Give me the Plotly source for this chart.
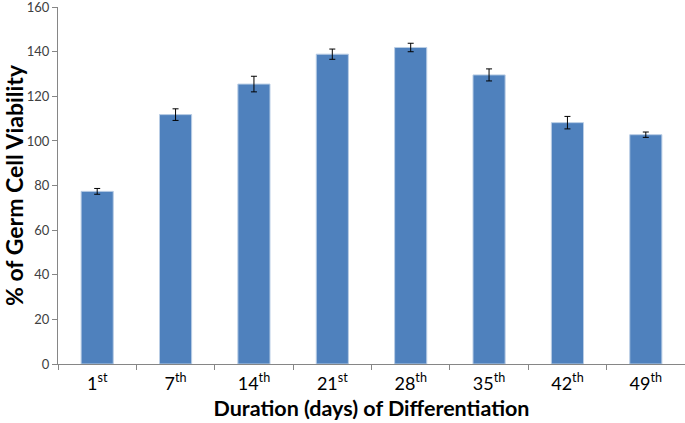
import plotly.graph_objects as go

categories = ["1<sup>st</sup>", "7<sup>th</sup>", "14<sup>th</sup>", "21<sup>st</sup>",
              "28<sup>th</sup>", "35<sup>th</sup>", "42<sup>th</sup>", "49<sup>th</sup>"]
viability = [77.4, 111.8, 125.5, 138.9, 141.9, 129.6, 108.2, 102.8]
errors = [1.3, 2.6, 3.5, 2.3, 1.9, 2.7, 2.8, 1.2]
y_ticks = [0, 20, 40, 60, 80, 100, 120, 140, 160]

fig = go.Figure(go.Bar(
    x=categories, y=viability,
    marker=dict(color="#4F81BD", line=dict(color="#B9CDE5", width=1)),
    error_y=dict(type="data", array=errors, visible=True, color="#000000",
                 thickness=1, width=3),
    width=0.41,
))

fig.update_layout(
    width=685, height=423,
    margin=dict(l=58, r=0, t=7, b=59),
    paper_bgcolor="white", plot_bgcolor="white",
    showlegend=False,
    font=dict(family="Lato, 'Open Sans', sans-serif", color="#404040"),
    xaxis=dict(
        type="category", automargin=False,
        showline=True, linecolor="#868686", linewidth=1,
        ticks="outside", tickson="boundaries", ticklen=5, tickcolor="#868686",
        ticklabelstandoff=3,
        tickfont=dict(size=18, color="#000000"),
        title=dict(text="<b>Duration (days) of Differentiation</b>",
                   font=dict(size=21.5, color="#000000"), standoff=8),
        showgrid=False,
    ),
    yaxis=dict(
        range=[0, 160.05], tickvals=y_ticks, automargin=False,
        ticklabeloverflow="allow",
        showline=True, linecolor="#868686", linewidth=1,
        ticks="outside", ticklen=5, tickcolor="#868686",
        tickfont=dict(size=13, color="#404040"),
        title=dict(text="<b>% of Germ Cell Viability</b>",
                   font=dict(size=23, color="#000000"), standoff=6),
        showgrid=False, zeroline=False,
    ),
)

fig.write_html("out.html", config={"displayModeBar": False},
               post_script="document.body.style.margin='0';")
